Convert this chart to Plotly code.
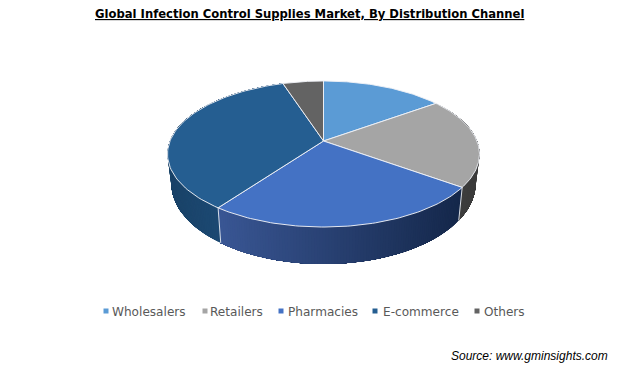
import numpy as np
import plotly.graph_objects as go

# ---- data ----
categories = ["Wholesalers", "Retailers", "Pharmacies", "E-commerce", "Others"]
shares = [15, 20, 25, 35, 5]
top_colors = ["#5B9BD5", "#A5A5A5", "#4472C4", "#255E91", "#636363"]
side_left_colors = ["#3A6A94", "#404040", "#3A5795", "#1A4368", "#444444"]
side_right_colors = ["#3A6A94", "#3C3C3C", "#15284B", "#1F5080", "#444444"]
title_text = "<u><b>Global Infection Control Supplies Market, By Distribution Channel</b></u>"
source_text = "<i>Source: www.gminsights.com</i>"

# ---- pie projection in page pixels ----
CX, CY = 323.5, 141.0
A, B, K = 153.5, 70.7, 0.178
SX, SY, BOTTOM_Y = 0.975, 1.10, 169.4


def project(theta, bottom=False):
    u, v = np.sin(theta), np.cos(theta)
    w = 1 + K * v
    dx, dy = A * u / w, -B * v / w
    if bottom:
        return CX + SX * dx, BOTTOM_Y + SY * dy
    return CX + dx, CY + dy


def rgb(c):
    return np.array([int(c[i:i + 2], 16) for i in (1, 3, 5)], dtype=float)


fig = go.Figure()
edges = np.concatenate([[0], np.cumsum(shares)]) / sum(shares) * 2 * np.pi

# side walls: overlapping strips, so the shading can run across the wall
STEP = 0.016
for i, name in enumerate(categories):
    t0, t1 = edges[i], edges[i + 1]
    if np.cos(t1) > 0.35 and np.cos(t0) > 0.35:
        continue  # entirely behind the top face
    n = max(2, int((t1 - t0) / STEP))
    ts = np.linspace(t0, t1, n + 1)
    xs_mid = project(ts)[0]
    c_a, c_b = rgb(side_left_colors[i]), rgb(side_right_colors[i])
    lo, hi = xs_mid.min(), xs_mid.max()
    # every strip runs on to the end of its slice, later strips paint over it
    for j in range(n):
        a = ts[j]
        seg = np.linspace(a, t1, max(2, (n - j) // 4 + 2))
        xa, ya = project(seg)
        xb, yb = project(seg[::-1], bottom=True)
        f = (project(np.array([a]))[0][0] - lo) / (hi - lo + 1e-9)
        col = "rgb(%d,%d,%d)" % tuple(c_a + (c_b - c_a) * f)
        fig.add_trace(go.Scatter(
            x=list(xa) + list(xb), y=list(ya) + list(yb), mode="lines",
            fill="toself", fillcolor=col, line=dict(width=0),
            hoverinfo="skip", showlegend=False))

# white seams on the visible wall edges
for t in edges[1:]:
    if np.cos(t) < -0.3:
        x0, y0 = project(np.array([t]))
        x1, y1 = project(np.array([t]), bottom=True)
        fig.add_trace(go.Scatter(
            x=[x0[0], x1[0]], y=[y0[0], y1[0]], mode="lines",
            line=dict(color="rgba(235,240,245,0.9)", width=1),
            hoverinfo="skip", showlegend=False))

# top faces
for i, name in enumerate(categories):
    ts = np.linspace(edges[i], edges[i + 1], 80)
    ax, ay = project(ts)
    fig.add_trace(go.Scatter(
        x=[CX] + list(ax) + [CX], y=[CY] + list(ay) + [CY], mode="lines",
        fill="toself", fillcolor=top_colors[i],
        line=dict(color="rgba(238,240,245,0.95)", width=1),
        name=name, text=f"{name}: {shares[i]}%", hoverinfo="text",
        showlegend=False))

# legend row
legend_mark_x = [106, 205, 281, 375, 477]
legend_text_x = [110, 208, 286, 381, 482]
LEGEND_Y = 311
for i, name in enumerate(categories):
    fig.add_trace(go.Scatter(
        x=[legend_mark_x[i]], y=[LEGEND_Y], mode="markers",
        marker=dict(symbol="square", size=5, color=top_colors[i]),
        hoverinfo="skip", showlegend=False))

annotations = [
    dict(x=legend_text_x[i], y=LEGEND_Y + 1, text=name, xref="x", yref="y",
         xanchor="left", yanchor="middle", showarrow=False,
         font=dict(family="DejaVu Sans", size=12.1, color="#595959"))
    for i, name in enumerate(categories)
]
annotations.append(dict(x=309, y=14, text=title_text, xref="x", yref="y",
                        xanchor="center", yanchor="middle", showarrow=False,
                        font=dict(family="DejaVu Sans", size=11.6, color="#000000")))
annotations.append(dict(x=610, y=356, text=source_text, xref="x", yref="y",
                        xanchor="right", yanchor="middle", showarrow=False,
                        font=dict(family="Liberation Sans", size=12, color="#000000")))

fig.update_layout(
    width=622, height=372, margin=dict(l=0, r=0, t=0, b=0),
    paper_bgcolor="white", plot_bgcolor="white", showlegend=False,
    annotations=annotations,
    xaxis=dict(range=[0, 622], visible=False, fixedrange=True),
    yaxis=dict(range=[372, 0], visible=False, fixedrange=True),
)
fig.write_html("out.html", post_script="document.body.style.margin='0';",
               config=dict(displayModeBar=False))
